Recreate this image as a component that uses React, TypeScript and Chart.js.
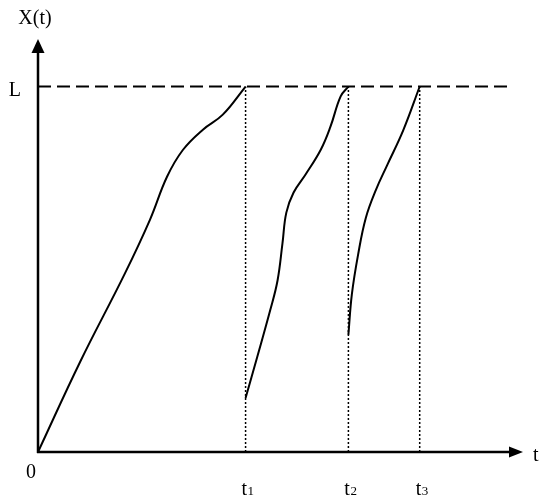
import React, { useEffect, useRef } from "react";
import { Chart, registerables } from "chart.js";

Chart.register(...registerables);

// ---- data ----
const L_LEVEL = 1;
const T_MAX = 10;
const Y_MAX = 1.13;
const DASH_END = 9.71;
const switchTimes = [4.28, 6.4, 7.87];
const switchSubs = ["1", "2", "3"];

const curve1X = [0, 0.87, 1.79, 2.31, 2.66, 2.99, 3.4, 3.81, 4.28];
const curve1Y = [0, 0.247, 0.488, 0.636, 0.753, 0.827, 0.882, 0.923, 1.0];

const curve2X = [4.28, 4.52, 4.79, 4.94, 5.04, 5.12, 5.27, 5.52, 5.83, 6.03, 6.24, 6.4];
const curve2Y = [0.148, 0.26, 0.389, 0.47, 0.57, 0.655, 0.71, 0.76, 0.827, 0.89, 0.973, 1.0];

const curve3X = [6.4, 6.47, 6.6, 6.76, 6.97, 7.2, 7.53, 7.87];
const curve3Y = [0.321, 0.43, 0.54, 0.641, 0.718, 0.785, 0.88, 1.0];

const FONT = '"Liberation Serif", "Times New Roman", serif';

function pts(xs: number[], ys: number[]) {
  return xs.map((x, i) => ({ x, y: ys[i] }));
}

const axesPlugin = {
  id: "axesPlugin",
  afterDatasetsDraw(chart: any) {
    const { ctx, scales } = chart;
    const xs = scales.x;
    const ys = scales.y;
    const x0 = xs.getPixelForValue(0);
    const y0 = ys.getPixelForValue(0);
    const xEnd = xs.getPixelForValue(T_MAX);
    const yEnd = ys.getPixelForValue(Y_MAX);
    const aLen = 14;
    const aHalf = 6.5;
    ctx.save();
    ctx.strokeStyle = "#000";
    ctx.fillStyle = "#000";
    ctx.lineWidth = 2.5;
    ctx.setLineDash([]);
    // y axis
    ctx.beginPath();
    ctx.moveTo(x0, y0 + 1);
    ctx.lineTo(x0, yEnd + aLen);
    ctx.stroke();
    ctx.beginPath();
    ctx.moveTo(x0, yEnd);
    ctx.lineTo(x0 - aHalf, yEnd + aLen);
    ctx.lineTo(x0 + aHalf, yEnd + aLen);
    ctx.closePath();
    ctx.fill();
    // x axis
    ctx.beginPath();
    ctx.moveTo(x0 - 1, y0);
    ctx.lineTo(xEnd - aLen, y0);
    ctx.stroke();
    ctx.beginPath();
    ctx.moveTo(xEnd, y0);
    ctx.lineTo(xEnd - aLen, y0 - aHalf + 1);
    ctx.lineTo(xEnd - aLen, y0 + aHalf - 1);
    ctx.closePath();
    ctx.fill();

    // labels
    ctx.font = `20px ${FONT}`;
    ctx.textBaseline = "alphabetic";
    ctx.textAlign = "center";
    ctx.fillText("X(t)", x0 - 3, yEnd - 15);
    ctx.textAlign = "right";
    ctx.fillText("L", x0 - 17, ys.getPixelForValue(L_LEVEL) + 9);
    ctx.textAlign = "center";
    ctx.fillText("0", x0 - 7, y0 + 26);
    ctx.textAlign = "left";
    ctx.fillText("t", xEnd + 10, y0 + 9);

    switchTimes.forEach((t, i) => {
      const px = xs.getPixelForValue(t);
      ctx.font = `20px ${FONT}`;
      const wT = ctx.measureText("t").width;
      ctx.font = `13px ${FONT}`;
      const wS = ctx.measureText(switchSubs[i]).width;
      const left = px - (wT + wS) / 2 + 2;
      ctx.textAlign = "left";
      ctx.font = `20px ${FONT}`;
      ctx.fillText("t", left, y0 + 43);
      ctx.font = `13px ${FONT}`;
      ctx.fillText(switchSubs[i], left + wT + 0.5, y0 + 43);
    });
    ctx.restore();
  },
};

export default function App() {
  const ref = useRef<HTMLCanvasElement | null>(null);
  useEffect(() => {
    if (!ref.current) return;
    const curveStyle = {
      borderColor: "#000",
      borderWidth: 2,
      pointRadius: 0,
      fill: false,
      tension: 0.4,
    };
    const datasets: any[] = [
      { data: pts(curve1X, curve1Y), ...curveStyle },
      { data: pts(curve2X, curve2Y), ...curveStyle },
      { data: pts(curve3X, curve3Y), ...curveStyle },
      {
        data: [
          { x: 0, y: L_LEVEL },
          { x: DASH_END, y: L_LEVEL },
        ],
        borderColor: "#000",
        borderWidth: 2,
        borderDash: [13, 6],
        pointRadius: 0,
      },
      ...switchTimes.map((t) => ({
        data: [
          { x: t, y: 0 },
          { x: t, y: L_LEVEL },
        ],
        borderColor: "#000",
        borderWidth: 1.5,
        borderDash: [2, 2],
        pointRadius: 0,
      })),
    ];
    const chart = new Chart(ref.current, {
      type: "line",
      data: { datasets },
      options: {
        animation: false,
        responsive: false,
        devicePixelRatio: 1,
        clip: false as any,
        layout: { padding: { left: 38, right: 27, top: 39, bottom: 51 } },
        scales: {
          x: { type: "linear", min: 0, max: T_MAX, display: false },
          y: { type: "linear", min: 0, max: Y_MAX, display: false },
        },
        plugins: { legend: { display: false }, tooltip: { enabled: false } },
      },
      plugins: [axesPlugin],
    });
    return () => chart.destroy();
  }, []);
  return (
    <div style={{ position: "fixed", left: 0, top: 0, width: 550, height: 503, background: "#fff" }}>
      <canvas ref={ref} width={550} height={503} />
    </div>
  );
}
